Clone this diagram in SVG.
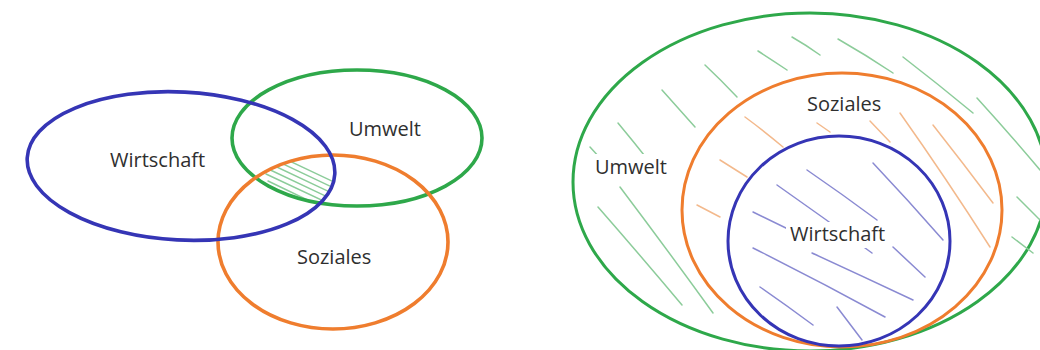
<svg xmlns="http://www.w3.org/2000/svg" width="1040" height="350" viewBox="0 0 1040 350">
<style>
.ring{fill:none;stroke-width:3.6}
.g{stroke:#2ea84a}.o{stroke:#ef7d2e}.b{stroke:#3535b5}
.hg{stroke:#8ccc9a;stroke-width:1.5;fill:none;stroke-linecap:round}
.ho{stroke:#f3b98c;stroke-width:1.5;fill:none;stroke-linecap:round}
.hb{stroke:#8a8ad2;stroke-width:1.5;fill:none;stroke-linecap:round}
.lbl{font-family:"Open Sans","Noto Sans",sans-serif;font-size:20px;fill:#2f2f2f}
</style>
<defs>
<clipPath id="cB"><ellipse cx="181" cy="166" rx="154" ry="74" transform="rotate(3 181 166)"/></clipPath>
<clipPath id="cG"><ellipse cx="357" cy="138" rx="125" ry="68"/></clipPath>
<clipPath id="cO"><ellipse cx="333" cy="242" rx="115" ry="87"/></clipPath>
</defs>
<rect width="1040" height="350" fill="#fff"/>

<!-- Left diagram -->
<g id="left-hatch" clip-path="url(#cB)"><g clip-path="url(#cG)"><g clip-path="url(#cO)" class="hg">
<path d="M262 148 L336 183"/>
<path d="M262 154 L336 189"/>
<path d="M262 160 L336 195"/>
<path d="M264 167 L336 201"/>
<path d="M266 174 L330 204"/>
<path d="M268 181 L320 206"/>
</g></g></g>
<g id="umwelt-left"><ellipse class="ring g" cx="357" cy="138" rx="125" ry="68"/><text class="lbl" x="349" y="136">Umwelt</text></g>
<g id="soziales-left"><ellipse class="ring o" cx="333" cy="242" rx="115" ry="87"/><text class="lbl" x="297" y="264">Soziales</text></g>
<g id="wirtschaft-left"><ellipse class="ring b" cx="181" cy="166" rx="154" ry="74" transform="rotate(3 181 166)"/><text class="lbl" x="110" y="167">Wirtschaft</text></g>

<!-- Right diagram -->
<g id="umwelt-right">
<ellipse class="ring g" style="stroke-width:3" cx="810" cy="182" rx="237" ry="169"/>
<g class="hg">
<path d="M792 37 Q806 45 820 55"/>
<path d="M838 39 Q866 55 893 73"/>
<path d="M758 51 Q772 60 787 70"/>
<path d="M705 65 Q721 80 737 97"/>
<path d="M662 90 Q678 108 695 127"/>
<path d="M618 123 Q633 141 648 160"/>
<path d="M590 147 L600 158"/>
<path d="M620 187 Q666 248 713 313"/>
<path d="M598 207 Q640 255 682 305"/>
<path d="M903 57 Q938 84 973 113"/>
<path d="M977 98 Q1008 132 1040 170"/>
<path d="M1017 197 L1040 220"/>
<path d="M1012 237 L1033 253"/>
</g>
<rect x="589" y="154" width="86" height="27" fill="#fff"/>
<text class="lbl" x="595" y="174">Umwelt</text>
</g>
<g id="soziales-right">
<ellipse class="ring o" style="stroke-width:3" cx="842" cy="210" rx="160" ry="137"/>
<g class="ho">
<path d="M745 117 Q764 131 783 147"/>
<path d="M720 160 L747 177"/>
<path d="M697 205 L720 217"/>
<path d="M817 123 L830 132"/>
<path d="M870 121 L890 142"/>
<path d="M900 113 Q946 178 990 247"/>
<path d="M933 125 Q963 163 993 203"/>
</g>
<rect x="801" y="91" width="88" height="27" fill="#fff"/>
<text class="lbl" x="807" y="111">Soziales</text>
</g>
<g id="wirtschaft-right">
<ellipse class="ring b" style="stroke-width:3" cx="839" cy="241" rx="111" ry="105"/>
<g class="hb">
<path d="M807 170 Q842 194 877 220"/>
<path d="M873 163 Q908 200 943 240"/>
<path d="M777 185 Q824 218 872 253"/>
<path d="M753 212 L790 230"/>
<path d="M753 248 Q819 281 885 317"/>
<path d="M812 253 Q862 276 913 300"/>
<path d="M760 287 Q786 305 813 325"/>
<path d="M893 247 L925 277"/>
<path d="M837 307 L862 340"/>
</g>
<rect x="786" y="222" width="106" height="26" fill="#fff"/>
<text class="lbl" x="790" y="241">Wirtschaft</text>
</g>
</svg>
